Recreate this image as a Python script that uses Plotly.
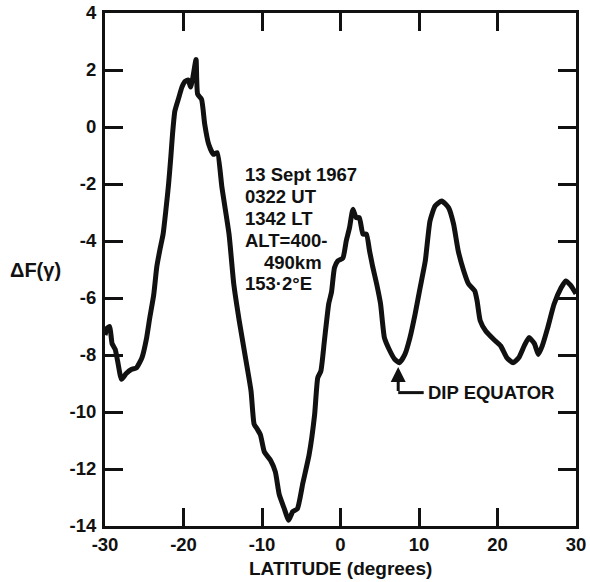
import plotly.graph_objects as go

# --- data ---
latitude = [-30.0, -29.7, -29.4, -29.1, -28.7, -28.4, -27.9, -27.3, -26.6, -26.0,
            -25.3, -24.7, -24.3, -23.8, -23.4, -23.0, -22.6, -22.2, -21.9, -21.6,
            -21.4, -21.1, -20.6, -20.2, -19.8, -19.4, -19.1, -18.8, -18.4, -18.2,
            -17.7, -17.3, -16.8, -16.2, -15.7, -15.1, -14.2, -13.6, -12.9, -12.1,
            -11.4, -11.0, -10.6, -10.2, -9.7, -8.9, -8.3, -7.8, -7.2, -6.6,
            -6.1, -5.5, -4.8, -4.0, -3.3, -2.9, -2.5, -2.05, -1.5, -1.15,
            -0.77, -0.35, 0.3, 0.73, 1.15, 1.58, 2.0, 2.4, 2.86, 3.3,
            3.7, 4.1, 4.6, 5.1, 5.6, 6.3, 6.9, 7.5, 8.2, 8.85,
            9.5, 10.1, 10.8, 11.4, 12.05, 12.9, 13.76, 14.4, 15.0, 15.7,
            16.3, 17.1, 17.4, 17.8, 18.5, 19.5, 20.4, 21.2, 22.0, 22.7,
            23.4, 24.0, 24.7, 25.2, 25.7, 26.4, 27.2, 28.1, 28.7, 29.3, 30.0]
delta_f = [-7.3, -7.05, -7.0, -7.6, -7.8, -8.2, -8.85, -8.65, -8.5, -8.45,
           -8.1, -7.4, -6.7, -5.9, -4.9, -4.3, -3.76, -2.8, -2.0, -1.0,
           -0.26, 0.56, 1.03, 1.4, 1.6, 1.65, 1.4, 1.75, 2.37, 1.15,
           0.97, 0.1, -0.6, -0.96, -0.9, -2.13, -3.76, -5.5, -6.8, -8.1,
           -9.26, -10.43, -10.6, -10.8, -11.4, -11.7, -12.1, -12.9, -13.36, -13.8,
           -13.5, -13.4, -12.5, -11.5, -10.1, -8.8, -8.56, -7.5, -6.2, -5.8,
           -4.94, -4.7, -4.6, -4.0, -3.53, -2.89, -3.18, -3.18, -3.76, -3.76,
           -4.35, -4.9, -5.5, -6.2, -7.4, -7.86, -8.15, -8.27, -7.98, -7.39,
           -6.57, -5.7, -4.7, -3.3, -2.77, -2.6, -2.83, -3.4, -4.35, -5.05,
           -5.5, -5.75, -6.1, -6.8, -7.16, -7.45, -7.68, -8.1, -8.27, -8.1,
           -7.68, -7.39, -7.6, -7.98, -7.68, -7.04, -6.22, -5.64, -5.4, -5.55, -5.85]

x_ticks = [-30, -20, -10, 0, 10, 20, 30]
y_ticks = [-14, -12, -10, -8, -6, -4, -2, 0, 2, 4]
info_lines = ["13 Sept 1967", "0322 UT", "1342 LT", "ALT=400-", "490km", "153·2°E"]
dip_equator_lat = 7.35

FONT = "Liberation Sans"
INK = "#111111"

fig = go.Figure()
fig.add_trace(go.Scatter(x=latitude, y=delta_f, mode="lines",
                         line=dict(color=INK, width=5, shape="spline", smoothing=0.5),
                         showlegend=False, hoverinfo="skip"))

axis_common = dict(showline=True, linecolor=INK, linewidth=3, mirror="ticks",
                   ticks="inside", tickcolor=INK, tickwidth=3, ticklen=18,
                   showgrid=False, zeroline=False, automargin=False,
                   tickfont=dict(family=FONT, size=18.5, color=INK, weight="bold"))

fig.update_xaxes(range=[-30, 30], tickvals=x_ticks,
                 ticktext=[str(v) for v in x_ticks], **axis_common)
fig.update_yaxes(range=[-14, 4], tickvals=y_ticks,
                 ticktext=[str(v) for v in y_ticks], ticklabelstandoff=2,
                 **axis_common)

annotations = []
# x-axis title
annotations.append(dict(text="LATITUDE (degrees)", xref="paper", yref="paper",
                        x=0.5, y=-0.082, xanchor="center", yanchor="middle",
                        showarrow=False,
                        font=dict(family=FONT, size=19, color=INK, weight="bold")))
# y-axis label (horizontal, to the left of tick labels)
annotations.append(dict(text="ΔF(γ)", xref="paper", yref="y", x=-0.205, y=-5.0,
                        xanchor="left", yanchor="middle", showarrow=False,
                        font=dict(family=FONT, size=20, color=INK, weight="bold")))
# info block
info_y = [-1.65, -2.45, -3.22, -3.98, -4.74, -5.5]
for txt, yy in zip(info_lines, info_y):
    xx = -10.0 if txt == "490km" else -12.4
    annotations.append(dict(text=txt, x=xx, y=yy, xanchor="left", yanchor="middle",
                            showarrow=False,
                            font=dict(family=FONT, size=18.5, color=INK, weight="bold")))
# dip equator arrow and label
annotations.append(dict(x=dip_equator_lat, y=-8.42, ax=dip_equator_lat, ay=-9.32,
                        xref="x", yref="y", axref="x", ayref="y", text="",
                        showarrow=True, arrowhead=2, arrowsize=1.0, arrowwidth=3,
                        arrowcolor=INK))
annotations.append(dict(text="DIP EQUATOR", x=10.9, y=-9.32, xanchor="left",
                        yanchor="middle", showarrow=False,
                        font=dict(family=FONT, size=18.5, color=INK, weight="bold")))

fig.add_shape(type="line", x0=dip_equator_lat, x1=10.6, y0=-9.32, y1=-9.32,
              xref="x", yref="y", line=dict(color=INK, width=3))

fig.update_layout(width=590, height=582,
                  margin=dict(l=105, r=14, t=13, b=56),
                  paper_bgcolor="white", plot_bgcolor="white",
                  annotations=annotations)

fig.write_html("out.html")
